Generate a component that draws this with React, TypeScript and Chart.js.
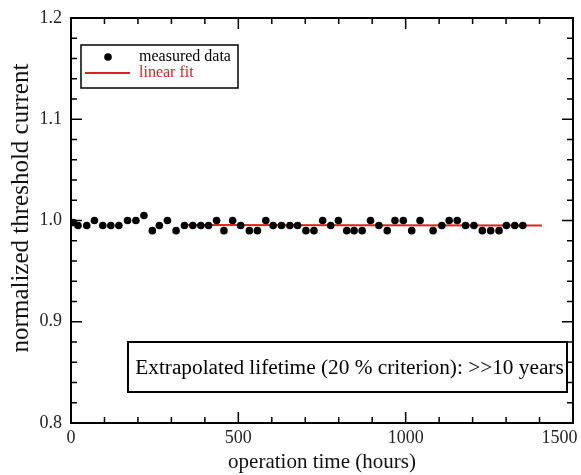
import { useEffect, useRef } from 'react';
import { Chart, registerables } from 'chart.js';

Chart.register(...registerables);

// ---- data ----
const hours = [
  7, 21, 47, 70, 95, 119, 143, 169, 194, 218, 243, 264, 288, 314, 339, 364, 388, 411, 435, 457,
  483, 507, 533, 557, 582, 604, 629, 654, 677, 702, 726, 752, 776, 799, 824, 846, 870, 895, 920,
  945, 968, 993, 1018, 1043, 1082, 1108, 1130, 1154, 1179, 1204, 1229, 1254, 1279, 1301, 1326, 1350,
];
const threshold = [
  0.998, 0.995, 0.995, 1.0, 0.995, 0.995, 0.995, 1.0, 1.0, 1.005, 0.99, 0.995, 1.0, 0.99, 0.995,
  0.995, 0.995, 0.995, 1.0, 0.99, 1.0, 0.995, 0.99, 0.99, 1.0, 0.995, 0.995, 0.995, 0.995, 0.99,
  0.99, 1.0, 0.995, 1.0, 0.99, 0.99, 0.99, 1.0, 0.995, 0.99, 1.0, 1.0, 0.99, 1.0, 0.99, 0.995, 1.0,
  1.0, 0.995, 0.995, 0.99, 0.99, 0.99, 0.995, 0.995, 0.995,
];
const fitHours = [335, 1407];
const fitValues = [0.9955, 0.995];
const xTickValues = [0, 500, 1000, 1500];
const yTickValues = [0.8, 0.9, 1.0, 1.1, 1.2];
const legendLabels = ['measured data', 'linear fit'];
const annotationText = 'Extrapolated lifetime (20 % criterion): >>10 years';
const xTitle = 'operation time (hours)';
const yTitle = 'normalized threshold current';

const SERIF = "'Liberation Serif', 'Times New Roman', serif";
const RED = 'rgb(220,35,35)';
const NBSP = '\u00a0';

const X_MIN = 0, X_MAX = 1500, X_MINOR = 100, X_MAJOR = 500;
const Y_MIN = 0.8, Y_MAX = 1.2, Y_MINOR = 0.02, Y_MAJOR = 0.1;

const decorPlugin = {
  id: 'decor',
  afterDraw(chart: any) {
    const { ctx, chartArea: a, scales } = chart;
    const xs = scales.x, ys = scales.y;
    ctx.save();
    ctx.strokeStyle = '#000';
    ctx.lineWidth = 1.5;
    const seg = (x1: number, y1: number, x2: number, y2: number) => {
      ctx.beginPath(); ctx.moveTo(x1, y1); ctx.lineTo(x2, y2); ctx.stroke();
    };
    const nx = Math.round((X_MAX - X_MIN) / X_MINOR);
    for (let i = 0; i <= nx; i++) {
      const v = X_MIN + i * X_MINOR;
      const px = xs.getPixelForValue(v);
      const major = Math.abs(v / X_MAJOR - Math.round(v / X_MAJOR)) < 1e-6;
      const len = major ? 11 : 6;
      seg(px, a.bottom, px, a.bottom - len);
      seg(px, a.top, px, a.top + len);
    }
    const ny = Math.round((Y_MAX - Y_MIN) / Y_MINOR);
    for (let i = 0; i <= ny; i++) {
      const v = Y_MIN + i * Y_MINOR;
      const py = ys.getPixelForValue(v);
      const major = Math.abs(v / Y_MAJOR - Math.round(v / Y_MAJOR)) < 1e-6;
      const len = major ? 11 : 6;
      seg(a.left, py, a.left + len, py);
      seg(a.right, py, a.right - len, py);
    }

    // legend box
    const lx = a.left + 10, ly = a.top + 27, lw = 157, lh = 43;
    ctx.fillStyle = '#fff';
    ctx.fillRect(lx, ly, lw, lh);
    ctx.lineWidth = 1.5;
    ctx.strokeRect(lx, ly, lw, lh);
    ctx.fillStyle = '#000';
    ctx.beginPath();
    ctx.arc(lx + 27, ly + 12, 3.8, 0, Math.PI * 2);
    ctx.fill();
    ctx.strokeStyle = RED;
    ctx.lineWidth = 2;
    seg(lx + 4, ly + 28, lx + 49, ly + 28);
    ctx.font = `16px ${SERIF}`;
    ctx.textBaseline = 'middle';
    ctx.textAlign = 'left';
    ctx.fillStyle = '#000';
    ctx.fillText(legendLabels[0], lx + 58, ly + 12);
    ctx.fillStyle = RED;
    ctx.fillText(legendLabels[1], lx + 58, ly + 28);

    // annotation box
    const bw = 439, bh = 50;
    const bx = a.right - 6 - bw, by = a.top + 324;
    ctx.fillStyle = '#fff';
    ctx.fillRect(bx, by, bw, bh);
    ctx.strokeStyle = '#000';
    ctx.lineWidth = 2;
    ctx.strokeRect(bx, by, bw, bh);
    ctx.fillStyle = '#000';
    ctx.font = `21.3px ${SERIF}`;
    ctx.textAlign = 'center';
    ctx.fillText(annotationText, bx + bw / 2 + 2, by + bh / 2 + 1);
    ctx.restore();
  },
};

export default function App() {
  const canvasRef = useRef<HTMLCanvasElement | null>(null);

  useEffect(() => {
    const canvas = canvasRef.current;
    if (!canvas) return;
    const points = hours.map((h, i) => ({ x: h, y: threshold[i] }));
    const fit = fitHours.map((h, i) => ({ x: h, y: fitValues[i] }));
    const tickFont = { family: SERIF, size: 18 };

    const chart = new Chart(canvas, {
      type: 'scatter',
      data: {
        datasets: [
          {
            label: legendLabels[1],
            data: fit,
            showLine: true,
            borderColor: RED,
            borderWidth: 2,
            pointRadius: 0,
            order: 2,
          },
          {
            label: legendLabels[0],
            data: points,
            backgroundColor: '#000',
            borderWidth: 0,
            pointRadius: 3.8,
            order: 1,
          },
        ],
      },
      options: {
        animation: false,
        responsive: true,
        maintainAspectRatio: false,
        layout: { padding: 0 },
        plugins: { legend: { display: false }, tooltip: { enabled: false } },
        scales: {
          x: {
            type: 'linear',
            position: 'bottom',
            min: X_MIN,
            max: X_MAX,
            afterBuildTicks: (s: any) => { s.ticks = xTickValues.map((v) => ({ value: v })); },
            afterFit: (s: any) => { s.height = 52; s.paddingLeft = 0; s.paddingRight = 0; },
            grid: { display: false, drawTicks: false },
            border: { display: true, color: '#000', width: 2 },
            ticks: {
              color: '#222',
              font: tickFont,
              padding: 4,
              maxRotation: 0,
              autoSkip: false,
              callback: (v: any) => (Number(v) === X_MAX ? String(v) + NBSP.repeat(6) : String(v)),
            },
            title: { display: true, text: xTitle, color: '#111', font: { family: SERIF, size: 21 }, padding: 0 },
          },
          xTop: {
            type: 'linear',
            position: 'top',
            min: X_MIN,
            max: X_MAX,
            afterFit: (s: any) => { s.height = 18; s.paddingLeft = 0; s.paddingRight = 0; },
            grid: { display: false, drawTicks: false },
            border: { display: true, color: '#000', width: 2 },
            ticks: { display: false },
          },
          y: {
            type: 'linear',
            position: 'left',
            min: Y_MIN,
            max: Y_MAX,
            afterBuildTicks: (s: any) => { s.ticks = yTickValues.map((v) => ({ value: v })); },
            afterFit: (s: any) => { s.width = 71; s.paddingTop = 0; s.paddingBottom = 0; },
            grid: { display: false, drawTicks: false },
            border: { display: true, color: '#000', width: 2 },
            ticks: { color: '#222', font: tickFont, padding: 9, callback: (v: any) => Number(v).toFixed(1) },
            title: {
              display: true,
              text: NBSP.repeat(4) + yTitle,
              color: '#111',
              font: { family: SERIF, size: 25 },
              padding: { top: 6, bottom: 0 },
            },
          },
          yRight: {
            type: 'linear',
            position: 'right',
            min: Y_MIN,
            max: Y_MAX,
            afterFit: (s: any) => { s.width = 8; s.paddingTop = 0; s.paddingBottom = 0; },
            grid: { display: false, drawTicks: false },
            border: { display: true, color: '#000', width: 2 },
            ticks: { display: false },
          },
        },
      },
      plugins: [decorPlugin],
    });
    return () => chart.destroy();
  }, []);

  return (
    <div style={{ position: 'fixed', left: 0, top: 0, width: 581, height: 475, background: '#fff' }}>
      <canvas ref={canvasRef} />
    </div>
  );
}
